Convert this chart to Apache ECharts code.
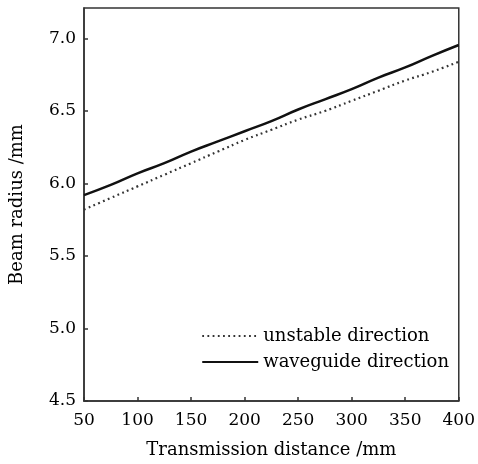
<!DOCTYPE html>
<html>
<head>
<meta charset="utf-8">
<script src="https://cdn.jsdelivr.net/npm/echarts@6/dist/echarts.min.js"></script>
<style>
  html, body { margin: 0; padding: 0; background: #fff; }
  #chart { width: 478px; height: 464px; }
</style>
</head>
<body>
<div id="chart"></div>
<script>
  var distance = [50, 75, 100, 125, 150, 175, 200, 225, 250, 275, 300, 325, 350, 375, 400];
  var waveguide = [5.92, 5.99, 6.07, 6.14, 6.22, 6.29, 6.36, 6.43, 6.51, 6.58, 6.65, 6.73, 6.80, 6.88, 6.955];
  var unstable = [5.82, 5.90, 5.98, 6.06, 6.14, 6.22, 6.30, 6.37, 6.44, 6.50, 6.57, 6.64, 6.71, 6.77, 6.84];

  function pairs(xs, ys) {
    var out = [];
    for (var i = 0; i < xs.length; i++) {
      out.push([xs[i], ys[i]]);
    }
    return out;
  }

  var font = 'DejaVu Serif';
  var chart = echarts.init(document.getElementById('chart'));

  var option = {
    animation: false,
    grid: {
      left: 84, right: 16, top: 8, bottom: 60,
      show: true, borderColor: '#333', borderWidth: 1.5
    },
    legend: {
      orient: 'vertical',
      right: 24, top: 322,
      itemWidth: 56, itemHeight: 10, itemGap: 8,
      itemStyle: { opacity: 0 },
      textStyle: { fontFamily: font, fontSize: 18, color: '#000' },
      data: ['unstable direction', 'waveguide direction']
    },
    xAxis: {
      type: 'value',
      min: 50, max: 400, interval: 50,
      name: 'Transmission distance /mm',
      nameLocation: 'middle', nameGap: 40,
      nameTextStyle: { fontFamily: font, fontSize: 18, color: '#000' },
      axisLine: { lineStyle: { color: '#333', width: 1.5 } },
      axisTick: { inside: true, length: 4, lineStyle: { color: '#333', width: 1.5 } },
      axisLabel: { fontFamily: font, fontSize: 17, color: '#000', margin: 11 },
      splitLine: { show: false }
    },
    yAxis: {
      type: 'value',
      min: 4.5, max: 7.21, interval: 0.5,
      name: 'Beam radius /mm',
      nameLocation: 'middle', nameGap: 58,
      nameTextStyle: { fontFamily: font, fontSize: 18, color: '#000' },
      axisLine: { lineStyle: { color: '#333', width: 1.5 } },
      axisTick: { inside: true, length: 4, lineStyle: { color: '#333', width: 1.5 } },
      axisLabel: {
        fontFamily: font, fontSize: 17, color: '#000', margin: 8,
        showMaxLabel: false,
        formatter: function (v) { return v.toFixed(1); }
      },
      splitLine: { show: false }
    },
    series: [
      {
        name: 'unstable direction',
        type: 'line',
        symbol: 'none',
        smooth: true,
        lineStyle: { color: '#333', width: 2.2, type: [1.8, 3.4] },
        itemStyle: { color: '#333' },
        data: pairs(distance, unstable)
      },
      {
        name: 'waveguide direction',
        type: 'line',
        symbol: 'none',
        smooth: true,
        lineStyle: { color: '#111', width: 2.5 },
        itemStyle: { color: '#111' },
        data: pairs(distance, waveguide)
      }
    ]
  };

  chart.setOption(option);
</script>
</body>
</html>
